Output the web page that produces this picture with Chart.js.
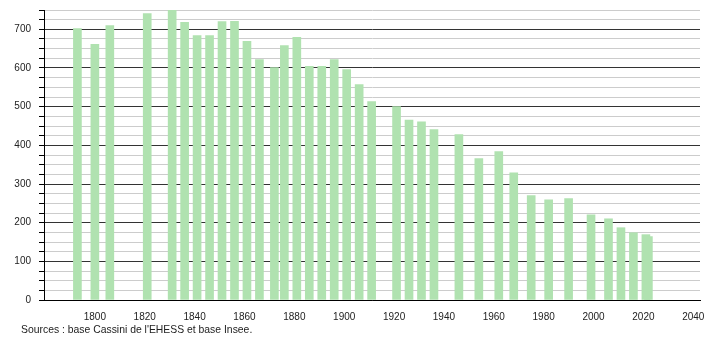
<!DOCTYPE html>
<html>
<head>
<meta charset="utf-8">
<script src="https://cdn.jsdelivr.net/npm/chart.js@4/dist/chart.umd.min.js"></script>
<style>
  html, body { margin: 0; padding: 0; background: #fff; }
  #wrap { width: 710px; height: 340px; }
</style>
</head>
<body>
<div id="wrap"><canvas id="popChart" width="710" height="340"></canvas></div>
<script>
const years = [1793, 1800, 1806, 1821, 1831, 1836, 1841, 1846, 1851, 1856,
    1861, 1866, 1872, 1876, 1881, 1886, 1891, 1896, 1901, 1906,
    1911, 1921, 1926, 1931, 1936, 1946, 1954, 1962, 1968, 1975,
    1982, 1990, 1999, 2006, 2011, 2016, 2021, 2022];
const population = [702, 661, 710, 741, 750, 718, 684, 684, 720, 721,
    669, 622, 601, 658, 679, 604, 604, 622, 596, 557,
    513, 500, 465, 461, 441, 428, 366, 384, 329, 270,
    259, 262, 220, 210, 187, 174, 169, 164];
const xTicks = [1800, 1820, 1840, 1860, 1880, 1900, 1920, 1940, 1960, 1980, 2000, 2020, 2040];
const yTicks = [];
for (let v = 0; v <= 750; v += 25) yTicks.push(v);
const sourceText = "Sources : base Cassini de l'EHESS et base Insee.";

Chart.defaults.font.family = "'Liberation Sans', Arial, sans-serif";
Chart.defaults.font.size = 10;
Chart.defaults.color = '#222';

const sourceNote = {
    id: 'sourceNote',
    afterDraw(chart) {
        const c = chart.ctx;
        c.save();
        c.font = "10.4px 'Liberation Sans', Arial, sans-serif";
        c.fillStyle = '#222';
        c.textBaseline = 'middle';
        c.fillText(sourceText, 21, 330);
        c.restore();
    }
};

const ctx = document.getElementById('popChart').getContext('2d');
const popChart = new Chart(ctx, {
    type: 'bar',
    data: {
        datasets: [{
            data: years.map((y, i) => ({ x: y, y: population[i] })),
            backgroundColor: 'rgb(176, 226, 176)',
            borderWidth: 0,
            barThickness: 8
        }]
    },
    options: {
        responsive: false,
        animation: false,
        layout: { padding: { top: 10, right: 10, left: 0, bottom: 0 } },
        plugins: {
            legend: { display: false },
            tooltip: { enabled: false }
        },
        scales: {
            x: {
                type: 'linear',
                min: 1779.6,
                max: 2042.7,
                offset: false,
                afterBuildTicks: (scale) => { scale.ticks = xTicks.map(v => ({ value: v })); },
                afterFit: (scale) => { scale.height = 40; scale.paddingLeft = 0; scale.paddingRight = 0; },
                grid: { display: false, offset: false },
                border: { display: true, color: '#000', width: 1 },
                ticks: { autoSkip: false, maxRotation: 0, padding: 3, callback: v => v }
            },
            y: {
                min: 0,
                max: 750,
                afterBuildTicks: (scale) => { scale.ticks = yTicks.map(v => ({ value: v })); },
                afterFit: (scale) => { scale.width = 44; scale.paddingTop = 0; scale.paddingBottom = 0; },
                grid: {
                    color: c => (c.tick && c.tick.value % 100 === 0) ? '#333' : '#ccc',
                    tickColor: '#000',
                    tickLength: 5,
                    lineWidth: 1
                },
                border: { display: true, color: '#000', width: 1 },
                ticks: {
                    autoSkip: false,
                    padding: 8,
                    callback: v => (v % 100 === 0 ? v : '')
                }
            }
        }
    },
    plugins: [sourceNote]
});
</script>
</body>
</html>
